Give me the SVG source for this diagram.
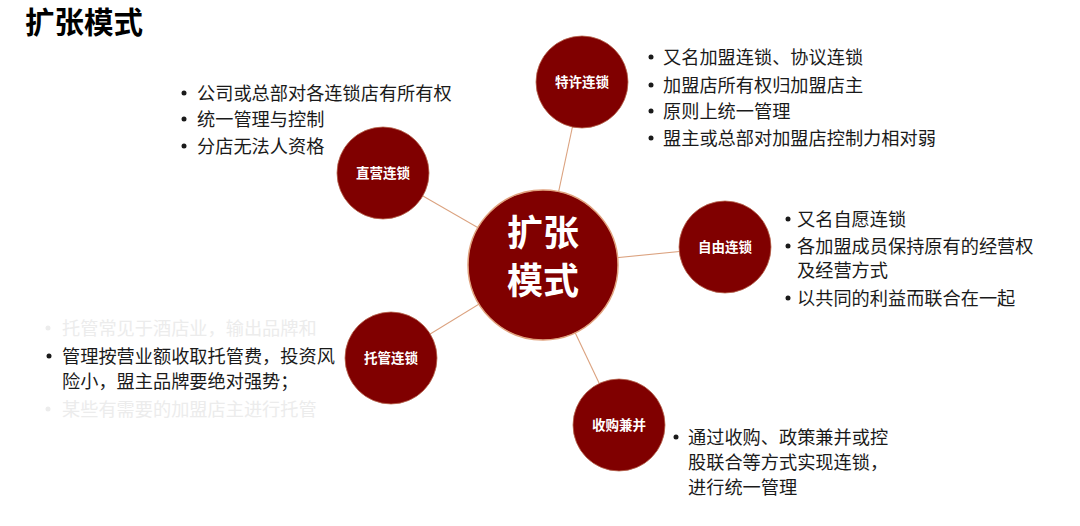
<svg xmlns="http://www.w3.org/2000/svg" width="1080" height="526" viewBox="0 0 1080 526">
<style>
.bg{fill:#ffffff}
.node{fill:#800000;stroke:#b8674f;stroke-width:0.8}
.hub{fill:#800000;stroke:#e0a27e;stroke-width:1.5}
.lbl{font-family:"Noto Sans CJK SC","Liberation Sans",sans-serif;font-size:13.5px;font-weight:bold;fill:#ffffff;text-anchor:middle}
.hubt{font-family:"Noto Sans CJK SC","Liberation Sans",sans-serif;font-size:36px;font-weight:bold;fill:#ffffff;text-anchor:middle}
.t{font-family:"Noto Sans CJK SC","Liberation Sans",sans-serif;font-size:18.2px;fill:#1a1a1a}
.f{font-family:"Noto Sans CJK SC","Liberation Sans",sans-serif;font-size:18.2px;fill:#ececec}
.b{fill:#1a1a1a}
.bf{fill:#ececec}
.title{font-family:"Noto Sans CJK SC","Liberation Sans",sans-serif;font-size:29.5px;font-weight:bold;fill:#000000}
.conn{stroke:#dba27f;stroke-width:1.1;fill:none}
</style>
<rect class="bg" x="0" y="0" width="1080" height="526"/>
<text class="title" x="25" y="33">扩张模式</text>
<g id="connectors">
<line class="conn" x1="543" y1="265" x2="383" y2="173"/>
<line class="conn" x1="543" y1="265" x2="582" y2="82"/>
<line class="conn" x1="543" y1="265" x2="725" y2="247"/>
<line class="conn" x1="543" y1="265" x2="391" y2="358"/>
<line class="conn" x1="543" y1="265" x2="619" y2="425"/>
</g>
<g id="hub">
<circle class="hub" cx="543" cy="265" r="75"/>
<text class="hubt" x="543" y="246">扩张</text>
<text class="hubt" x="543" y="294">模式</text>
</g>
<g id="zhiying">
<circle class="node" cx="383" cy="173" r="46"/>
<text class="lbl" x="383" y="178">直营连锁</text>
<circle class="b" cx="184" cy="93" r="2.5"/>
<circle class="b" cx="184" cy="119" r="2.5"/>
<circle class="b" cx="184" cy="146" r="2.5"/>
<text class="t" x="197" y="99.5">公司或总部对各连锁店有所有权</text>
<text class="t" x="197" y="125.5">统一管理与控制</text>
<text class="t" x="197" y="152.5">分店无法人资格</text>
</g>
<g id="texu">
<circle class="node" cx="582" cy="82" r="46"/>
<text class="lbl" x="582" y="87">特许连锁</text>
<circle class="b" cx="651" cy="57" r="2.5"/>
<circle class="b" cx="651" cy="85" r="2.5"/>
<circle class="b" cx="651" cy="111" r="2.5"/>
<circle class="b" cx="651" cy="138" r="2.5"/>
<text class="t" x="663" y="63.5">又名加盟连锁、协议连锁</text>
<text class="t" x="663" y="91.5">加盟店所有权归加盟店主</text>
<text class="t" x="663" y="117.5">原则上统一管理</text>
<text class="t" x="663" y="144.5">盟主或总部对加盟店控制力相对弱</text>
</g>
<g id="ziyou">
<circle class="node" cx="725" cy="247" r="46"/>
<text class="lbl" x="725" y="252">自由连锁</text>
<circle class="b" cx="788" cy="219" r="2.5"/>
<circle class="b" cx="788" cy="246" r="2.5"/>
<circle class="b" cx="788" cy="298" r="2.5"/>
<text class="t" x="797" y="225.5">又名自愿连锁</text>
<text class="t" x="797" y="252.5">各加盟成员保持原有的经营权</text>
<text class="t" x="797" y="277">及经营方式</text>
<text class="t" x="797" y="304.5">以共同的利益而联合在一起</text>
</g>
<g id="tuoguan">
<circle class="node" cx="391" cy="358" r="46"/>
<text class="lbl" x="391" y="363">托管连锁</text>
<circle class="bf" cx="48" cy="328" r="2.5"/>
<circle class="b" cx="49" cy="356" r="2.5"/>
<circle class="bf" cx="48" cy="409" r="2.5"/>
<text class="f" x="62" y="334.5">托管常见于酒店业，输出品牌和</text>
<text class="t" x="62" y="362.5">管理按营业额收取托管费，投资风</text>
<text class="t" x="62" y="387.5">险小，盟主品牌要绝对强势；</text>
<text class="f" x="62" y="415.5">某些有需要的加盟店主进行托管</text>
</g>
<g id="shougou">
<circle class="node" cx="619" cy="425" r="46"/>
<text class="lbl" x="619" y="430">收购兼并</text>
<circle class="b" cx="676" cy="437" r="2.5"/>
<text class="t" x="688" y="443.5">通过收购、政策兼并或控</text>
<text class="t" x="688" y="468.5">股联合等方式实现连锁，</text>
<text class="t" x="688" y="493.5">进行统一管理</text>
</g>
</svg>
